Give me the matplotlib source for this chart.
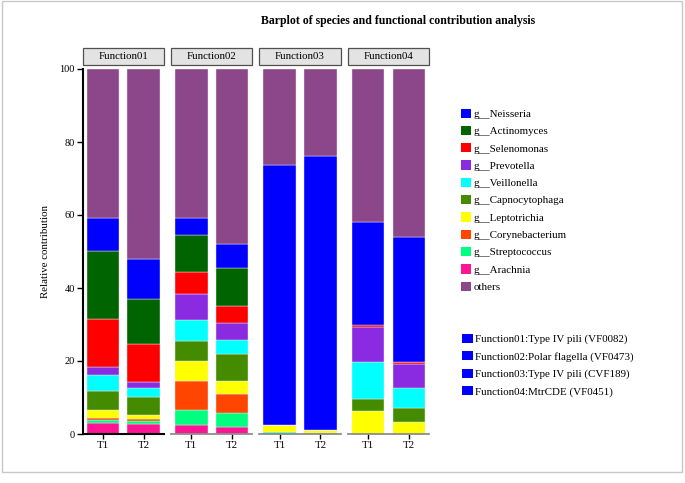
import matplotlib
matplotlib.use("Agg")
import matplotlib.pyplot as plt
from matplotlib.patches import Rectangle, Patch
import numpy as np

plt.rcParams['font.family'] = ['Liberation Serif', 'DejaVu Serif']

functions = ["Function01", "Function02", "Function03", "Function04"]
samples = ["T1", "T2"]

# legend order (top to bottom); values per bar: F1T1, F1T2, F2T1, F2T2, F3T1, F3T2, F4T1, F4T2
genera = ["g__Neisseria", "g__Actinomyces", "g__Selenomonas", "g__Prevotella",
          "g__Veillonella", "g__Capnocytophaga", "g__Leptotrichia",
          "g__Corynebacterium", "g__Streptococcus", "g__Arachnia", "others"]
neisseria       = [8.9, 10.9, 4.7, 6.6, 71.2, 75.2, 28.0, 34.3]
actinomyces     = [18.7, 12.4, 10.2, 10.3, 0, 0, 0, 0]
selenomonas     = [13.1, 10.5, 5.9, 4.8, 0, 0, 0.8, 0.5]
prevotella      = [2.3, 1.5, 7.3, 4.6, 0, 0, 9.6, 6.7]
veillonella     = [4.3, 2.5, 5.6, 3.8, 0, 0, 10.0, 5.3]
capnocytophaga  = [5.3, 5.0, 5.5, 7.5, 0, 0, 3.3, 4.0]
leptotrichia    = [2.1, 1.2, 5.5, 3.6, 2.1, 0.75, 6.3, 3.2]
corynebacterium = [0.6, 0.4, 7.8, 5.2, 0, 0, 0, 0]
streptococcus   = [0.9, 0.9, 4.3, 3.7, 0.5, 0.35, 0, 0]
arachnia        = [2.9, 2.7, 2.4, 2.0, 0, 0, 0, 0]
others          = [40.9, 52.0, 40.8, 47.9, 26.2, 23.7, 42.0, 46.0]

colors = ["#0000FF", "#006400", "#FF0000", "#8A2BE2", "#00FFFF", "#458B00",
          "#FFFF00", "#FF4500", "#00FF7F", "#FF1493", "#8B4789"]

function_labels = ["Function01:Type IV pili (VF0082)", "Function02:Polar flagella (VF0473)",
                   "Function03:Type IV pili (CVF189)", "Function04:MtrCDE (VF0451)"]

series = [neisseria, actinomyces, selenomonas, prevotella, veillonella, capnocytophaga,
          leptotrichia, corynebacterium, streptococcus, arachnia, others]
# stacking order bottom -> top
stack_idx = [9, 8, 7, 6, 5, 4, 3, 2, 1, 0, 10]

W, H = 685, 483
fig = plt.figure(figsize=(W / 100, H / 100), dpi=100)

def fx(px):
    return px / W

def fy(py):
    return 1 - py / H

# frame around figure
fig.patches.append(Rectangle((fx(2), fy(472)), fx(680), 471 / H, transform=fig.transFigure,
                             fill=False, edgecolor="#c8c8c8", lw=1.0))

ax_top, ax_bot = 69, 434
panel_left = [82.5, 170.9, 259.3, 347.7]
panel_w = 81.5
axes = []
for p, fname in enumerate(functions):
    ax = fig.add_axes([fx(panel_left[p]), fy(ax_bot), fx(panel_w), (ax_bot - ax_top) / H])
    axes.append(ax)
    x = np.arange(len(samples))
    bottom = np.zeros(len(samples))
    for gi in stack_idx:
        vals = np.array(series[gi][2 * p:2 * p + 2], dtype=float)
        ax.bar(x, vals, width=0.8, bottom=bottom, color=colors[gi],
               edgecolor="#f0ecf4", linewidth=0.3)
        bottom += vals
    ax.set_xlim(-0.5, 1.5)
    ax.set_ylim(0, 100)
    ax.set_xticks(x)
    ax.set_xticklabels(samples, fontsize=7.8)
    ax.tick_params(axis='x', length=3.5, width=1.0, pad=1.2, color='black')
    for s in ["top", "right"]:
        ax.spines[s].set_visible(False)
    if p == 0:
        ax.spines["left"].set_linewidth(1.5)
        ax.spines["left"].set_color("black")
        ax.spines["bottom"].set_linewidth(1.5)
        ax.spines["bottom"].set_color("black")
        ax.set_yticks([0, 20, 40, 60, 80, 100])
        ax.tick_params(axis='y', length=4, width=1.0, pad=1.5, labelsize=7.5)
        ax.set_ylabel("Relative contribution", fontsize=7.8, labelpad=7)
    else:
        ax.spines["left"].set_visible(False)
        ax.spines["bottom"].set_linewidth(1.3)
        ax.spines["bottom"].set_color("#8c8c8c")
        ax.set_yticks([])
    ax.patch.set_alpha(0)
    # strip
    s_bottom = 1 + (ax_top - 65) / (ax_bot - ax_top)
    s_h = (65 - 47.7) / (ax_bot - ax_top)
    ax.add_patch(Rectangle((0, s_bottom), 1, s_h, transform=ax.transAxes, clip_on=False,
                           facecolor="#e3e3e3", edgecolor="#505050", lw=0.9))
    ax.text(0.5, s_bottom + s_h / 2, fname, transform=ax.transAxes, ha='center',
            va='center', fontsize=7.85, clip_on=False)

fig.text(fx(398), fy(21), "Barplot of species and functional contribution analysis",
         ha='center', va='center', fontsize=8.45, fontweight='bold')

handles1 = [Patch(facecolor=c, edgecolor='none') for c in colors]
leg1 = fig.legend(handles1, genera, loc='upper left', bbox_to_anchor=(fx(460.5), fy(108.5)),
                  frameon=False, fontsize=7.9, handlelength=0.97, handleheight=0.92,
                  handletextpad=0.25, labelspacing=0.63, borderpad=0, borderaxespad=0)

handles2 = [Patch(facecolor="#0000FF", edgecolor='none') for _ in function_labels]
leg2 = fig.legend(handles2, function_labels, loc='upper left', bbox_to_anchor=(fx(462), fy(333.5)),
                  frameon=False, fontsize=7.9, handlelength=0.97, handleheight=0.92,
                  handletextpad=0.25, labelspacing=0.63, borderpad=0, borderaxespad=0)

fig.savefig("out.png", dpi=100)
